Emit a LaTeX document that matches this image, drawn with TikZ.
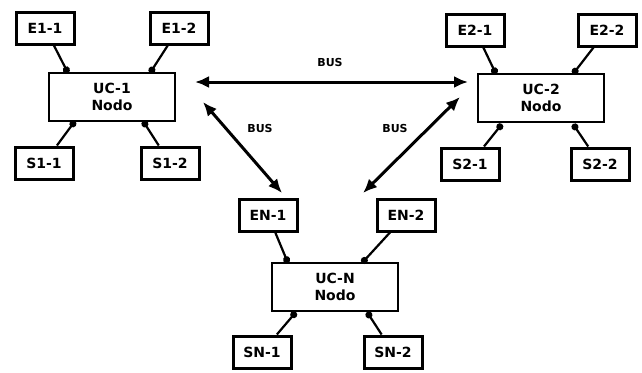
\documentclass[tikz,border=0pt]{standalone}
\usepackage{fontspec}
\setmainfont{DejaVu Sans}
\usetikzlibrary{arrows.meta}
\tikzset{
  io/.style={draw, line width=3pt, minimum width=58pt, minimum height=32pt, inner sep=1pt, font=\fontsize{14}{15}\selectfont\bfseries},
  uc/.style={draw, line width=2.8pt, minimum width=126pt, minimum height=48pt, align=center, font=\fontsize{14}{17}\selectfont\bfseries},
  link/.style={line width=2.2pt, -{Circle[length=7pt]}},
  bus/.style={line width=3pt, {Latex[length=14pt,width=12pt]}-{Latex[length=14pt,width=12pt]}},
  buslbl/.style={font=\fontsize{11}{12}\selectfont\bfseries}
}
\begin{document}
\begin{tikzpicture}[x=1pt,y=-1pt]
\useasboundingbox (0,0) rectangle (642,372);
% cluster 1
\node[io] (e11) at (45,28) {E1-1};
\node[io] (e12) at (179,28) {E1-2};
\node[uc] (uc1) at (112,97) {UC-1\\Nodo};
\node[io] (s11) at (44,163) {S1-1};
\node[io] (s12) at (170,163) {S1-2};
% cluster 2
\node[io] (e21) at (475,30) {E2-1};
\node[io] (e22) at (607,30) {E2-2};
\node[uc] (uc2) at (541,98) {UC-2\\Nodo};
\node[io] (s21) at (470,164) {S2-1};
\node[io] (s22) at (600,164) {S2-2};
% cluster N
\node[io] (en1) at (268,215) {EN-1};
\node[io] (en2) at (406,215) {EN-2};
\node[uc] (ucn) at (335,287) {UC-N\\Nodo};
\node[io] (sn1) at (262,352) {SN-1};
\node[io] (sn2) at (393,352) {SN-2};
% links
\coordinate (c1a) at (68,73); \coordinate (c1b) at (150,73);
\coordinate (c1c) at (75,121); \coordinate (c1d) at (143,121);
\draw[link] (e11) -- (c1a);
\draw[link] (e12) -- (c1b);
\draw[link] (s11) -- (c1c);
\draw[link] (s12) -- (c1d);
\coordinate (c2a) at (496,74); \coordinate (c2b) at (573,74);
\coordinate (c2c) at (502,124); \coordinate (c2d) at (573,124);
\draw[link] (e21) -- (c2a);
\draw[link] (e22) -- (c2b);
\draw[link] (s21) -- (c2c);
\draw[link] (s22) -- (c2d);
\coordinate (cna) at (288,263); \coordinate (cnb) at (362,263);
\coordinate (cnc) at (296,312); \coordinate (cnd) at (367,312);
\draw[link] (en1) -- (cna);
\draw[link] (en2) -- (cnb);
\draw[link] (sn1) -- (cnc);
\draw[link] (sn2) -- (cnd);
% buses
\coordinate (b1) at (195,82); \coordinate (b2) at (468,82);
\coordinate (b3) at (203,102); \coordinate (b4) at (282,193);
\coordinate (b5) at (460,97); \coordinate (b6) at (363,193);
\draw[bus] (b1) -- (b2);
\draw[bus] (b3) -- (b4);
\draw[bus] (b5) -- (b6);
\node[buslbl] (l1) at (330,62) {BUS};
\node[buslbl] (l2) at (260,128) {BUS};
\node[buslbl] (l3) at (395,128) {BUS};
\end{tikzpicture}
\end{document}
